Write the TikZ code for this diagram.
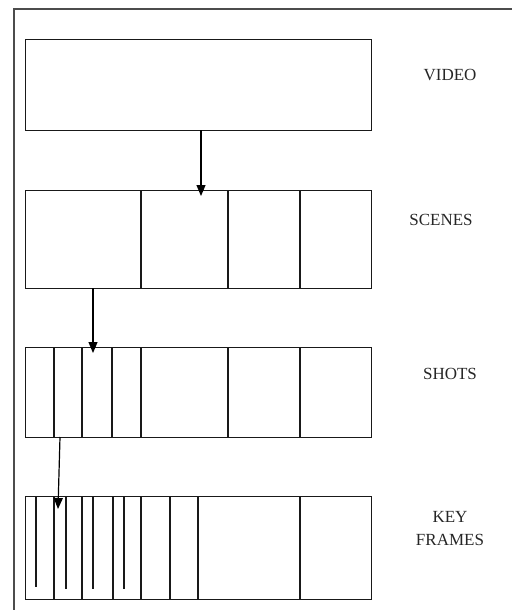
\documentclass[tikz,border=0pt]{standalone}
\usepackage{fontspec}
\setmainfont{Liberation Serif}
\usetikzlibrary{arrows.meta}
\begin{document}
\begin{tikzpicture}[x=1pt,y=-1pt,
  levelbox/.style={draw=black!90,line width=1.2pt,rectangle,inner sep=0pt,anchor=north west},
  divider/.style={draw=black!90,line width=1.2pt},
  frameline/.style={draw=black!70,line width=1.6pt},
  downarrow/.style={draw=black,line width=1.2pt,-{Triangle[width=9pt,length=11pt]}},
  levellabel/.style={font=\fontsize{17}{23}\selectfont,text=black!85,align=center}]
\useasboundingbox (0,0) rectangle (512,610);
% page frame
\draw[frameline] (14,610) -- (14,9) -- (512,9);
% level boxes
\node[levelbox,minimum width=346pt,minimum height=91pt] (video) at (25,39) {};
\node[levelbox,minimum width=346pt,minimum height=98pt] (scenes) at (25,190) {};
\node[levelbox,minimum width=346pt,minimum height=90pt] (shots) at (25,347) {};
\node[levelbox,minimum width=346pt,minimum height=103pt] (keys) at (25,496) {};
% scene boundaries
\foreach \x in {141,228,300}
  \draw[divider] (\x,190) -- (\x,288);
% shot boundaries
\foreach \x in {54,82,112,141,228,300}
  \draw[divider] (\x,347) -- (\x,437);
% key-frame boundaries
\foreach \x in {54,82,113,141,170,198,300}
  \draw[divider] (\x,496) -- (\x,599);
% key frames
\draw[divider] (36,496) -- (36,587);
\foreach \x in {66,93,124}
  \draw[divider] (\x,496) -- (\x,589);
% connectors
\coordinate (a1s) at (201,130); \coordinate (a1e) at (201,196);
\coordinate (a2s) at (93,288);  \coordinate (a2e) at (93,353);
\coordinate (a3s) at (60,437);  \coordinate (a3e) at (58,509);
\draw[downarrow] (a1s) -- (a1e);
\draw[downarrow] (a2s) -- (a2e);
\draw[downarrow] (a3s) -- (a3e);
% labels
\node[levellabel] (lvideo) at (450,75) {VIDEO};
\node[levellabel] (lscenes) at (441,220) {SCENES};
\node[levellabel] (lshots) at (450,374) {SHOTS};
\node[levellabel] (lkeys) at (450,529) {KEY\\FRAMES};
\end{tikzpicture}
\end{document}
